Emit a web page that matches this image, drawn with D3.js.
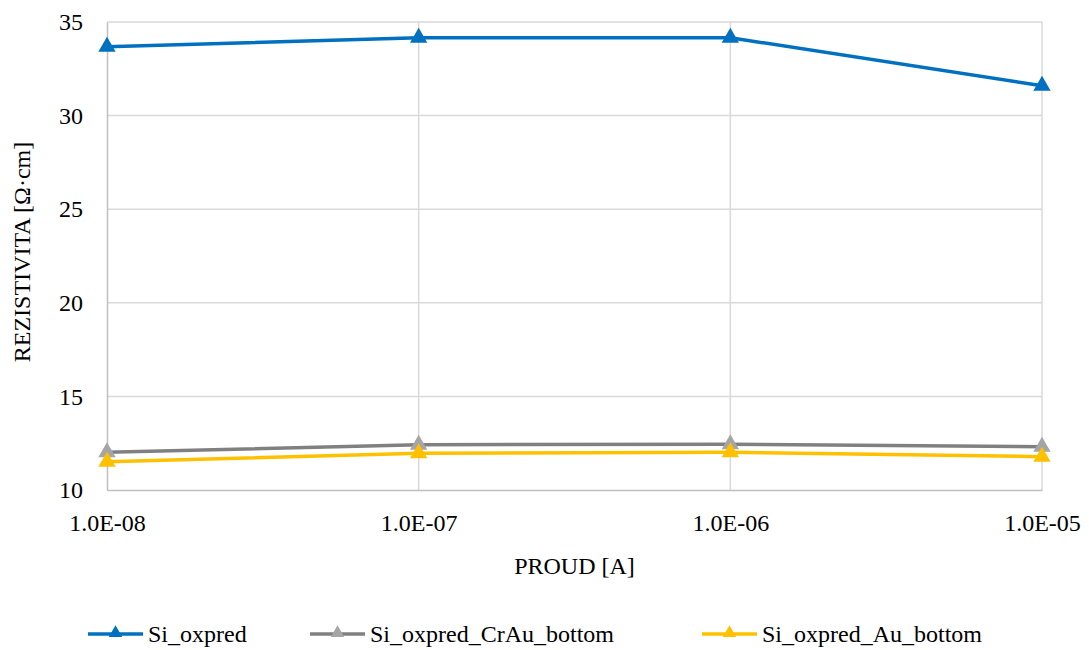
<!DOCTYPE html>
<html>
<head>
<meta charset="utf-8">
<script src="https://cdn.jsdelivr.net/npm/d3@7"></script>
<style>
  html, body { margin: 0; padding: 0; background: #fff; }
</style>
</head>
<body>
<svg id="chart" width="1089" height="650"></svg>
<script>
// Current values (A) on the x axis
const currents = [1e-8, 1e-7, 1e-6, 1e-5];
const xTickLabels = ["1.0E-08", "1.0E-07", "1.0E-06", "1.0E-05"];
const yTicks = [10, 15, 20, 25, 30, 35];

// Resistivity series (Ω·cm)
const siOxpred = [33.68, 34.16, 34.16, 31.60];
const siOxpredCrAu = [12.01, 12.42, 12.44, 12.31];
const siOxpredAu = [11.51, 11.96, 12.01, 11.78];

const seriesNames = ["Si_oxpred", "Si_oxpred_CrAu_bottom", "Si_oxpred_Au_bottom"];
const series = [
  { name: seriesNames[0], values: siOxpred, line: "#0070c0", marker: "#0070c0" },
  { name: seriesNames[1], values: siOxpredCrAu, line: "#808080", marker: "#a5a5a5" },
  { name: seriesNames[2], values: siOxpredAu, line: "#ffc000", marker: "#ffc000" }
];

const FONT = "Liberation Serif";
const FS = 24;

const svg = d3.select("#chart");
const margin = { left: 107, right: 1042, top: 22, bottom: 490 };

const x = d3.scaleLog().domain([1e-8, 1e-5]).range([margin.left, margin.right]);
const y = d3.scaleLinear().domain([10, 35]).range([margin.bottom, margin.top]);

// horizontal gridlines
svg.append("g").selectAll("line").data(yTicks.filter(v => v !== 10)).join("line")
  .attr("x1", margin.left).attr("x2", margin.right)
  .attr("y1", d => y(d)).attr("y2", d => y(d))
  .attr("stroke", "#d9d9d9").attr("stroke-width", 1.5);

// vertical gridlines
svg.append("g").selectAll("line").data(currents.slice(1)).join("line")
  .attr("x1", d => x(d)).attr("x2", d => x(d))
  .attr("y1", margin.top).attr("y2", margin.bottom)
  .attr("stroke", "#d9d9d9").attr("stroke-width", 1.5);

// axes
const gx = svg.append("g").attr("transform", `translate(0,${margin.bottom})`)
  .call(d3.axisBottom(x).tickValues(currents)
    .tickFormat((d, i) => xTickLabels[i]).tickSize(0).tickPadding(24));
gx.select(".domain").attr("stroke", "#bfbfbf").attr("stroke-width", 1.5);
gx.selectAll("text").attr("font-family", FONT).attr("font-size", FS);

const gy = svg.append("g").attr("transform", `translate(${margin.left},0)`)
  .call(d3.axisLeft(y).tickValues(yTicks).tickSize(0).tickPadding(24));
gy.select(".domain").attr("stroke", "#bfbfbf").attr("stroke-width", 1.5);
gy.selectAll("text").attr("font-family", FONT).attr("font-size", FS);

// axis titles
svg.append("text").attr("x", (margin.left + margin.right) / 2).attr("y", 574)
  .attr("text-anchor", "middle").attr("font-family", FONT).attr("font-size", FS)
  .text("PROUD [A]");
svg.append("text")
  .attr("transform", "translate(30,252) rotate(-90)")
  .attr("text-anchor", "middle").attr("font-family", FONT).attr("font-size", FS)
  .text("REZISTIVITA [Ω·cm]");

const tri = d3.symbol().type(d3.symbolTriangle).size(130);
const triSmall = d3.symbol().type(d3.symbolTriangle).size(80);
const line = d3.line().x((d, i) => x(currents[i])).y(d => y(d));

// series lines and markers
series.forEach(s => {
  const g = svg.append("g");
  g.append("path").datum(s.values).attr("d", line)
    .attr("fill", "none").attr("stroke", s.line).attr("stroke-width", 3.5)
    .attr("stroke-linejoin", "round");
  g.selectAll("path.m").data(s.values).join("path").attr("class", "m")
    .attr("d", tri)
    .attr("transform", (d, i) => `translate(${x(currents[i])},${y(d)})`)
    .attr("fill", s.marker);
});

// legend
const legendX = [88, 310, 702];
const legendY = 634;
series.forEach((s, i) => {
  const g = svg.append("g").attr("transform", `translate(${legendX[i]},${legendY})`);
  g.append("line").attr("x1", 0).attr("x2", 55).attr("y1", 0).attr("y2", 0)
    .attr("stroke", s.line).attr("stroke-width", 3.5);
  g.append("path").attr("d", triSmall).attr("transform", "translate(27.5,-1)").attr("fill", s.marker);
  g.append("text").attr("x", 60).attr("y", 8).attr("font-family", FONT)
    .attr("font-size", FS).text(s.name);
});
</script>
</body>
</html>
